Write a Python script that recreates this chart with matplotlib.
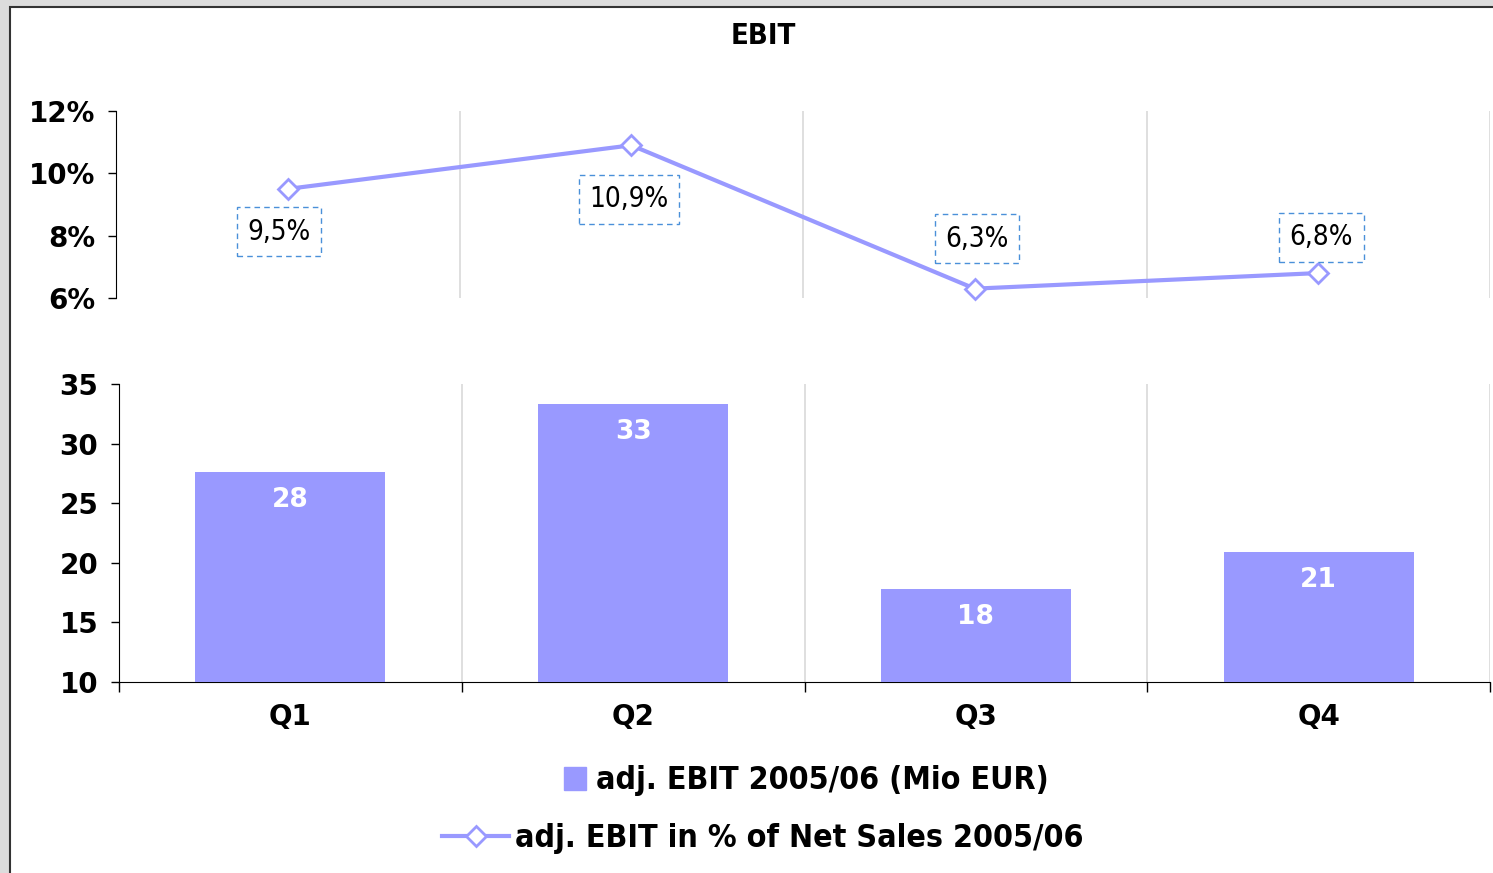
import numpy as np
import matplotlib.pyplot as plt
from matplotlib.patches import Rectangle, Patch
from matplotlib.lines import Line2D

# data
quarters = ["Q1", "Q2", "Q3", "Q4"]
ebit_mio = [27.6, 33.3, 17.8, 20.9]
ebit_labels = ["28", "33", "18", "21"]
ebit_pct = [9.5, 10.9, 6.3, 6.8]
pct_labels = ["9,5%", "10,9%", "6,3%", "6,8%"]

# label box offsets from the point, in pixels (style only)
pct_label_offsets = [(-9, -43), (-2, -54), (2, 50), (3, 36)]

W, H = 1493, 873
PURPLE = "#9999ff"
GRID = "#d9d9d9"
BOLD = dict(fontweight="bold", family="DejaVu Sans")
BOLD_C = dict(fontweight="bold", family="DejaVu Sans", fontstretch="condensed")


def ax_rect(x0, y0, x1, y1):
    # pixel box (top-left origin) -> figure fraction
    return [x0 / W, 1 - y1 / H, (x1 - x0) / W, (y1 - y0) / H]


fig = plt.figure(figsize=(W / 100, H / 100), dpi=100)
fig.patch.set_facecolor("#dcdcdc")
fig.patches.append(Rectangle((10 / W, -0.1), 1.2, 1 - 7 / H + 0.1,
                             transform=fig.transFigure, facecolor="white",
                             edgecolor="#333333", linewidth=1.5, zorder=-5))

x = np.arange(len(quarters))

# ---- top: percentage line ----
ax1 = fig.add_axes(ax_rect(116, 111, 1490, 298))
ax1.set_facecolor("none")
ax1.plot(x, ebit_pct, color=PURPLE, lw=3, marker="D", ms=10,
         markerfacecolor="white", markeredgecolor=PURPLE, mew=2, zorder=3,
         clip_on=False)
for xi, v, lab, (dx, dy) in zip(x, ebit_pct, pct_labels, pct_label_offsets):
    ax1.annotate(lab, (xi, v), xytext=(dx * 0.72, dy * 0.72),
                 textcoords="offset points",
                 ha="center", va="center", fontsize=20, family="DejaVu Sans",
                 fontstretch="condensed",
                 bbox=dict(boxstyle="square,pad=0.38", fc="white",
                           ec="#4a90d9", ls=(0, (4, 3)), lw=1))
ax1.set_xlim(-0.5, 3.5)
ax1.set_ylim(6, 12)
ax1.set_yticks([6, 8, 10, 12])
ax1.set_yticklabels(["6%", "8%", "10%", "12%"], fontsize=20, **BOLD)
ax1.set_xticks([])
ax1.set_xticks([0.5, 1.5, 2.5, 3.5], minor=True)
ax1.grid(True, which="minor", axis="x", color=GRID, lw=1.2)
ax1.tick_params(axis="x", which="minor", length=0)
ax1.tick_params(axis="y", length=6, width=1, pad=9)
for s in ["top", "right", "bottom"]:
    ax1.spines[s].set_visible(False)

# ---- bottom: bars ----
ax2 = fig.add_axes(ax_rect(119, 384, 1490, 682))
ax2.set_facecolor("none")
bars = ax2.bar(x, ebit_mio, width=0.555, color=PURPLE, zorder=3)
for b, lab in zip(bars, ebit_labels):
    ax2.annotate(lab, (b.get_x() + b.get_width() / 2, b.get_height()),
                 xytext=(0, -20), textcoords="offset points", ha="center",
                 va="center", color="white", fontsize=19, **BOLD, zorder=4)
ax2.set_xlim(-0.5, 3.5)
ax2.set_ylim(10, 35)
ax2.set_yticks([10, 15, 20, 25, 30, 35])
ax2.set_yticklabels(["10", "15", "20", "25", "30", "35"], fontsize=20, **BOLD)
ax2.set_xticks(x)
ax2.set_xticklabels(quarters, fontsize=20, **BOLD)
ax2.tick_params(axis="x", which="major", length=0, pad=15)
ax2.set_xticks([-0.5, 0.5, 1.5, 2.5, 3.5], minor=True)
ax2.tick_params(axis="x", which="minor", length=7, width=1)
ax2.grid(True, which="minor", axis="x", color=GRID, lw=1.2)
ax2.tick_params(axis="y", length=6, width=1, pad=9)
for s in ["top", "right"]:
    ax2.spines[s].set_visible(False)

fig.text(763 / W, 1 - 36 / H, "EBIT", ha="center", va="center",
         fontsize=21, **BOLD_C)

# ---- legend, two centred rows ----
leg_font = dict(size=23, weight="bold", family="DejaVu Sans", stretch="condensed")
fig.legend([Patch(color=PURPLE)], ["adj. EBIT 2005/06 (Mio EUR)"],
           loc="center", bbox_to_anchor=(806 / W, 1 - 781 / H),
           frameon=False, prop=leg_font, handlelength=0.7,
           handleheight=0.7, handletextpad=0.3)
fig.legend([Line2D([0], [0], color=PURPLE, lw=3, marker="D", ms=10,
                   markerfacecolor="white", markeredgecolor=PURPLE, mew=2)],
           ["adj. EBIT in % of Net Sales 2005/06"],
           loc="center", bbox_to_anchor=(763 / W, 1 - 839 / H),
           frameon=False, prop=leg_font, handlelength=2.1, handletextpad=0.2)

fig.savefig("out.png", dpi=100, facecolor=fig.get_facecolor())
